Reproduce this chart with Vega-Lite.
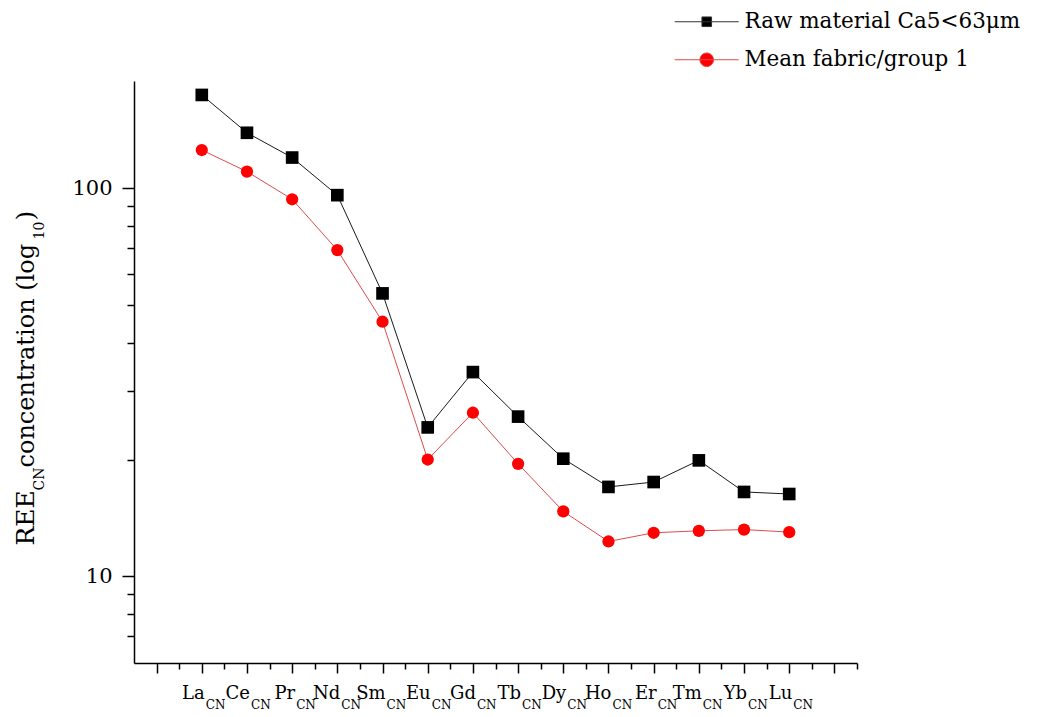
{
  "$schema": "https://vega.github.io/schema/vega-lite/v6.json",
  "width": 723,
  "height": 582,
  "autosize": {"type": "none"},
  "padding": {"left": 134, "top": 81, "right": 189, "bottom": 54},
  "background": "white",
  "config": {
    "view": {"stroke": null},
    "font": "DejaVu Serif",
    "axis": {
      "grid": false,
      "domainColor": "black",
      "tickColor": "black",
      "labelColor": "black",
      "titleColor": "black",
      "labelFont": "DejaVu Serif",
      "titleFont": "DejaVu Serif",
      "titleFontWeight": "normal",
      "labelFlush": false,
      "labelOverlap": false,
      "labelBound": false
    },
    "legend": {
      "orient": "none",
      "legendX": 562,
      "legendY": -70,
      "labelFont": "DejaVu Serif",
      "labelFontSize": 21.5,
      "labelColor": "black",
      "labelLimit": 400,
      "symbolSize": 256,
      "symbolStrokeWidth": 1,
      "symbolOpacity": 1,
      "labelOffset": 27,
      "rowPadding": 15
    }
  },
  "datasets": {
    "ree": [
      {"el": "La", "idx": 1, "series": "Raw material Ca5<63μm", "value": 174},
      {"el": "Ce", "idx": 2, "series": "Raw material Ca5<63μm", "value": 139},
      {"el": "Pr", "idx": 3, "series": "Raw material Ca5<63μm", "value": 120},
      {"el": "Nd", "idx": 4, "series": "Raw material Ca5<63μm", "value": 96},
      {"el": "Sm", "idx": 5, "series": "Raw material Ca5<63μm", "value": 53.6},
      {"el": "Eu", "idx": 6, "series": "Raw material Ca5<63μm", "value": 24.2},
      {"el": "Gd", "idx": 7, "series": "Raw material Ca5<63μm", "value": 33.6},
      {"el": "Tb", "idx": 8, "series": "Raw material Ca5<63μm", "value": 25.8},
      {"el": "Dy", "idx": 9, "series": "Raw material Ca5<63μm", "value": 20.1},
      {"el": "Ho", "idx": 10, "series": "Raw material Ca5<63μm", "value": 17.0},
      {"el": "Er", "idx": 11, "series": "Raw material Ca5<63μm", "value": 17.5},
      {"el": "Tm", "idx": 12, "series": "Raw material Ca5<63μm", "value": 19.9},
      {"el": "Yb", "idx": 13, "series": "Raw material Ca5<63μm", "value": 16.5},
      {"el": "Lu", "idx": 14, "series": "Raw material Ca5<63μm", "value": 16.3},
      {"el": "La", "idx": 1, "series": "Mean fabric/group 1", "value": 125.5},
      {"el": "Ce", "idx": 2, "series": "Mean fabric/group 1", "value": 110.4},
      {"el": "Pr", "idx": 3, "series": "Mean fabric/group 1", "value": 93.7},
      {"el": "Nd", "idx": 4, "series": "Mean fabric/group 1", "value": 69.3},
      {"el": "Sm", "idx": 5, "series": "Mean fabric/group 1", "value": 45.3},
      {"el": "Eu", "idx": 6, "series": "Mean fabric/group 1", "value": 20.0},
      {"el": "Gd", "idx": 7, "series": "Mean fabric/group 1", "value": 26.4},
      {"el": "Tb", "idx": 8, "series": "Mean fabric/group 1", "value": 19.5},
      {"el": "Dy", "idx": 9, "series": "Mean fabric/group 1", "value": 14.7},
      {"el": "Ho", "idx": 10, "series": "Mean fabric/group 1", "value": 12.3},
      {"el": "Er", "idx": 11, "series": "Mean fabric/group 1", "value": 12.95},
      {"el": "Tm", "idx": 12, "series": "Mean fabric/group 1", "value": 13.1},
      {"el": "Yb", "idx": 13, "series": "Mean fabric/group 1", "value": 13.2},
      {"el": "Lu", "idx": 14, "series": "Mean fabric/group 1", "value": 13.0}
    ]
  },
  "data": {"name": "ree"},
  "resolve": {"axis": {"x": "independent", "y": "independent"}},
  "layer": [
    {
      "transform": [{"filter": {"field": "series", "equal": "Raw material Ca5<63μm"}}],
      "mark": {"type": "line", "color": "#1a1a1a", "strokeWidth": 1},
      "encoding": {
        "x": {
          "field": "idx",
          "type": "quantitative",
          "scale": {"domain": [-0.5, 15.5], "nice": false, "zero": false},
          "axis": {
            "orient": "bottom",
            "values": [0, 1, 2, 3, 4, 5, 6, 7, 8, 9, 10, 11, 12, 13, 14, 15],
            "tickSize": 10,
            "tickWidth": 1.5,
            "domainWidth": 1.5,
            "labelExpr": "['', 'La', 'Ce', 'Pr', 'Nd', 'Sm', 'Eu', 'Gd', 'Tb', 'Dy', 'Ho', 'Er', 'Tm', 'Yb', 'Lu', ''][datum.value]",
            "labelFontSize": 18,
            "labelAlign": "right",
            "labelOffset": 2.5,
            "labelBaseline": "alphabetic",
            "labelPadding": 25,
            "title": null
          }
        },
        "y": {
          "field": "value",
          "type": "quantitative",
          "scale": {"type": "log", "domain": [5.98, 189], "nice": false},
          "axis": {
            "orient": "left",
            "values": [10, 100],
            "tickSize": 12,
            "tickWidth": 1.5,
            "domainWidth": 1.5,
            "labelFontSize": 21,
            "labelPadding": 10,
            "format": "d",
            "title": "REE",
            "titleFontSize": 25,
            "titleAngle": -90,
            "titleAlign": "left",
            "titleBaseline": "alphabetic",
            "titleX": -101,
            "titleY": 464
          }
        }
      }
    },
    {
      "transform": [{"filter": {"field": "series", "equal": "Raw material Ca5<63μm"}}],
      "mark": {"type": "point", "shape": "square", "filled": true, "color": "black", "size": 160, "opacity": 1},
      "encoding": {
        "x": {
          "field": "idx",
          "type": "quantitative",
          "axis": {
            "orient": "bottom",
            "values": [1, 2, 3, 4, 5, 6, 7, 8, 9, 10, 11, 12, 13, 14],
            "ticks": false,
            "tickSize": 0,
            "domain": false,
            "labelExpr": "'CN'",
            "labelFontSize": 12,
            "labelAlign": "left",
            "labelOffset": 3.5,
            "labelBaseline": "alphabetic",
            "labelPadding": 45,
            "title": null
          }
        },
        "y": {
          "field": "value",
          "type": "quantitative",
          "axis": {
            "orient": "left",
            "domain": false,
            "ticks": false,
            "labels": false,
            "title": "CN",
            "titleFontSize": 14,
            "titleAngle": -90,
            "titleAlign": "left",
            "titleBaseline": "alphabetic",
            "titleX": -91,
            "titleY": 409
          }
        }
      }
    },
    {
      "transform": [{"filter": {"field": "series", "equal": "Mean fabric/group 1"}}],
      "mark": {"type": "line", "color": "#e04a4a", "strokeWidth": 1},
      "encoding": {
        "x": {
          "field": "idx",
          "type": "quantitative",
          "axis": {
            "orient": "bottom",
            "values": [0.5, 1.5, 2.5, 3.5, 4.5, 5.5, 6.5, 7.5, 8.5, 9.5, 10.5, 11.5, 12.5, 13.5, 14.5, 15.5],
            "tickSize": 6,
            "tickWidth": 1.5,
            "domain": false,
            "labels": false,
            "title": null
          }
        },
        "y": {
          "field": "value",
          "type": "quantitative",
          "axis": {
            "orient": "left",
            "values": [7, 8, 9, 20, 30, 40, 50, 60, 70, 80, 90],
            "tickSize": 7,
            "tickWidth": 1.5,
            "domain": false,
            "labels": false,
            "title": ")",
            "titleFontSize": 25,
            "titleAngle": -90,
            "titleAlign": "left",
            "titleBaseline": "alphabetic",
            "titleX": -101,
            "titleY": 139
          }
        }
      }
    },
    {
      "transform": [{"filter": {"field": "series", "equal": "Mean fabric/group 1"}}],
      "mark": {"type": "point", "shape": "circle", "filled": true, "color": "#ff0000", "size": 150, "opacity": 1},
      "encoding": {
        "x": {"field": "idx", "type": "quantitative", "axis": null},
        "y": {
          "field": "value",
          "type": "quantitative",
          "axis": {
            "orient": "left",
            "domain": false,
            "ticks": false,
            "labels": false,
            "title": "concentration (log",
            "titleFontSize": 24,
            "titleAngle": -90,
            "titleAlign": "left",
            "titleBaseline": "alphabetic",
            "titleX": -101,
            "titleY": 386
          }
        }
      }
    },
    {
      "mark": {"type": "point", "filled": true, "opacity": 0},
      "encoding": {
        "x": {"field": "idx", "type": "quantitative", "axis": null},
        "y": {
          "field": "value",
          "type": "quantitative",
          "axis": {
            "orient": "left",
            "domain": false,
            "ticks": false,
            "labels": false,
            "title": "10",
            "titleFontSize": 14,
            "titleAngle": -90,
            "titleAlign": "left",
            "titleBaseline": "alphabetic",
            "titleX": -91,
            "titleY": 158
          }
        },
        "fill": {
          "field": "series",
          "type": "nominal",
          "scale": {"domain": ["Raw material Ca5<63μm", "Mean fabric/group 1"], "range": ["#000000", "#ff0000"]},
          "legend": {"title": null}
        },
        "stroke": {
          "field": "series",
          "type": "nominal",
          "scale": {"domain": ["Raw material Ca5<63μm", "Mean fabric/group 1"], "range": ["#333333", "#e04a4a"]},
          "legend": {"title": null}
        },
        "shape": {
          "field": "series",
          "type": "nominal",
          "scale": {
            "domain": ["Raw material Ca5<63μm", "Mean fabric/group 1"],
            "range": [
              "M-4,0H4M-0.6,-0.6H0.6V0.6H-0.6Z",
              "M-4,0H4M-0.85,0A0.85,0.85,0,1,1,0.85,0A0.85,0.85,0,1,1,-0.85,0Z"
            ]
          },
          "legend": {"title": null}
        }
      }
    }
  ]
}
